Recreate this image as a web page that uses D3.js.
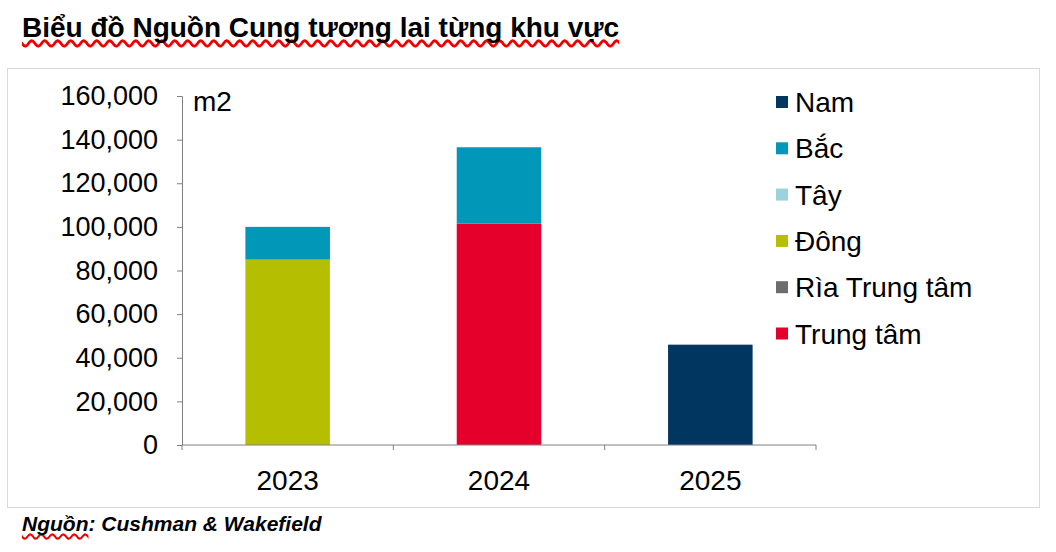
<!DOCTYPE html>
<html><head><meta charset="utf-8">
<script src="https://cdn.jsdelivr.net/npm/d3@7"></script>
<style>
body{margin:0;background:#fff;font-family:Arial,"Liberation Sans",sans-serif;}
.sq{text-decoration:underline wavy #e00;text-decoration-skip-ink:none;}
</style></head>
<body>
<svg id="chart" width="1056" height="552"></svg>
<script>
// data
const years = ["2023", "2024", "2025"];
const regions = ["Trung tâm", "Rìa Trung tâm", "Đông", "Tây", "Bắc", "Nam"];
const colors = ["#e4002b", "#6d6d6d", "#b5be00", "#9ad3de", "#0097b8", "#003660"];
const trungTam = [0, 101500, 0];
const riaTrungTam = [0, 0, 0];
const dong = [85000, 0, 0];
const tay = [0, 0, 0];
const bac = [15000, 35000, 0];
const nam = [0, 0, 46000];
const yTicks = [0, 20000, 40000, 60000, 80000, 100000, 120000, 140000, 160000];

const series = [trungTam, riaTrungTam, dong, tay, bac, nam];
const rows = years.map((y, i) => {
  const r = { year: y };
  regions.forEach((k, j) => r[k] = series[j][i]);
  return r;
});

const svg = d3.select("#chart");

svg.append("rect").attr("x", 7.5).attr("y", 68.5).attr("width", 1032).attr("height", 439)
  .attr("fill", "none").attr("stroke", "#d9d9d9");

svg.append("foreignObject").attr("x", 22).attr("y", 12).attr("width", 900).attr("height", 44)
  .append("xhtml:div")
  .style("font", "bold 28px Arial").style("color", "#000")
  .html('<span class="sq">Biểu đồ Nguồn Cung tương lai từng khu vực</span>');

svg.append("foreignObject").attr("x", 22).attr("y", 512).attr("width", 600).attr("height", 34)
  .append("xhtml:div")
  .style("font", "italic bold 21px Arial").style("color", "#000")
  .html('<span class="sq">Nguồn</span>: Cushman &amp; Wakefield');

const x = d3.scaleBand().domain(years).range([182, 816]).paddingInner(0.6).paddingOuter(0.3);
const y = d3.scaleLinear().domain([0, 160000]).range([445, 96]);

const stack = d3.stack().keys(regions)(rows);
svg.append("g").selectAll("g").data(stack).join("g")
  .attr("fill", (d, i) => colors[i])
  .selectAll("rect").data(d => d).join("rect")
  .attr("x", d => x(d.data.year))
  .attr("width", x.bandwidth())
  .attr("y", d => y(d[1]))
  .attr("height", d => y(d[0]) - y(d[1]));

const yAxis = svg.append("g").attr("transform", "translate(182,0)")
  .call(d3.axisLeft(y).tickValues(yTicks).tickFormat(d3.format(",")).tickSize(5).tickPadding(19));
yAxis.select(".domain").attr("stroke", "#808080");
yAxis.selectAll(".tick line").attr("stroke", "#808080");
yAxis.selectAll("text").style("font", "27px Arial").attr("fill", "#000");

const xAxis = svg.append("g").attr("transform", "translate(0,445)");
xAxis.append("line").attr("x1", 182).attr("x2", 816).attr("stroke", "#808080");
[0, 1, 2, 3].forEach(i => {
  const bx = 182 + i * (634 / 3);
  xAxis.append("line").attr("x1", bx).attr("x2", bx).attr("y1", 0).attr("y2", 5).attr("stroke", "#808080");
});
xAxis.selectAll("text.yr").data(years).join("text").attr("class", "yr")
  .attr("x", d => x(d) + x.bandwidth() / 2).attr("y", 45)
  .attr("text-anchor", "middle").style("font", "28px Arial").text(d => d);

svg.append("text").attr("x", 193).attr("y", 111).style("font", "28px Arial").text("m2");

const legendOrder = [5, 4, 3, 2, 1, 0];
const lg = svg.append("g").selectAll("g").data(legendOrder).join("g")
  .attr("transform", (d, i) => `translate(776,${102 + i * 46.3})`);
lg.append("rect").attr("x", 0).attr("y", -6).attr("width", 12).attr("height", 12).attr("fill", d => colors[d]);
lg.append("text").attr("x", 19).attr("y", 10).style("font", "28px Arial").text(d => regions[d]);
</script>
</body></html>
